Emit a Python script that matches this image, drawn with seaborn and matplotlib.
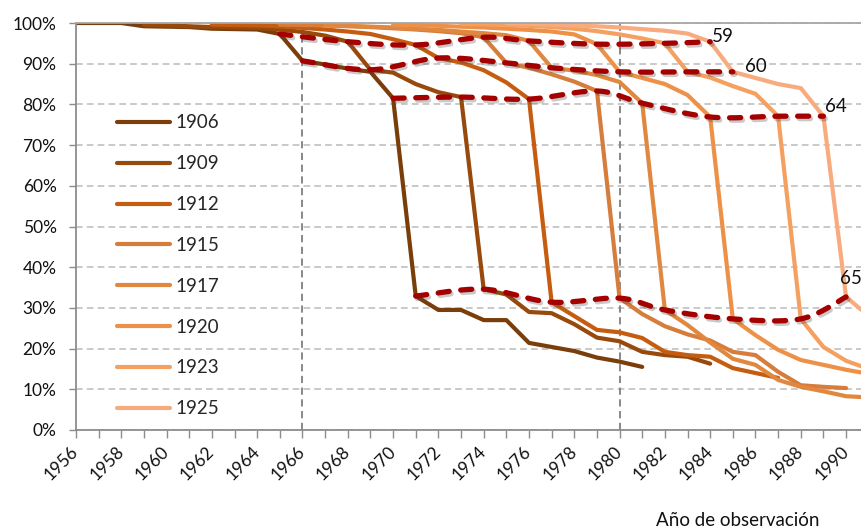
import numpy as np
import pandas as pd
import matplotlib
matplotlib.use("Agg")
import matplotlib.pyplot as plt
from matplotlib.lines import Line2D
from matplotlib import patheffects as pe
import seaborn as sns

# Birth cohorts and the share still active (%) by year of observation,
# each series starting at age 50.
cohorts = [1906, 1909, 1912, 1915, 1917, 1920, 1923, 1925]
first_age = 50

rates_1906 = [100.0, 100.0, 100.0, 99.2, 99.1, 99.0, 98.6, 98.5, 98.4, 97.3,
              90.7, 89.8, 88.8, 88.0, 81.5, 32.9, 29.5, 29.5, 27.0, 27.0,
              21.4, 20.4, 19.4, 17.8, 16.8, 15.5]
rates_1909 = [99.5, 99.4, 99.2, 99.0, 98.9, 98.8, 98.4, 97.8, 96.9, 95.4,
              88.5, 87.8, 85.0, 83.0, 81.8, 34.6, 33.3, 29.0, 28.7, 26.0,
              22.7, 21.8, 19.2, 18.4, 18.0, 16.3]
rates_1912 = [99.6, 99.5, 99.4, 99.2, 98.8, 98.4, 97.9, 97.3, 96.0, 94.6,
              91.4, 90.3, 88.4, 85.4, 81.3, 31.4, 28.0, 24.6, 24.0, 22.6,
              19.2, 18.4, 18.0, 15.2, 14.0, 12.8]
rates_1915 = [99.6, 99.5, 99.4, 99.2, 99.0, 98.7, 98.4, 98.0, 97.5, 96.5,
              90.2, 89.0, 87.4, 85.6, 83.3, 32.4, 28.5, 25.5, 23.5, 22.0,
              19.2, 18.4, 14.3, 11.0, 10.6, 10.3]
rates_1917 = [99.4, 99.3, 99.1, 98.9, 98.6, 98.3, 97.9, 97.5, 97.0, 95.6,
              89.0, 88.3, 87.2, 85.5, 80.3, 29.5, 25.8, 21.5, 17.5, 16.0,
              12.3, 10.6, 9.5, 8.3, 8.0]
rates_1920 = [99.6, 99.5, 99.3, 99.1, 98.9, 98.6, 98.3, 97.9, 97.2, 94.8,
              88.0, 86.5, 85.0, 82.3, 76.9, 27.3, 23.3, 19.7, 17.2, 16.0,
              14.8, 13.8]
rates_1923 = [99.8, 99.7, 99.5, 99.3, 99.0, 98.6, 98.0, 97.2, 96.2, 95.0,
              88.0, 86.6, 84.5, 82.6, 77.1, 27.3, 20.4, 17.0, 15.0]
rates_1925 = [99.9, 99.8, 99.6, 99.4, 99.2, 98.9, 98.5, 98.1, 97.4, 95.4,
              88.0, 86.5, 85.0, 84.0, 77.1, 32.7, 28.0]

cohort_rates = [rates_1906, rates_1909, rates_1912, rates_1915,
                rates_1917, rates_1920, rates_1923, rates_1925]

# Ages followed across cohorts (dashed red curves)
marked_ages = [59, 60, 64, 65]

cohort_colors = ["#7A3E0A", "#98490C", "#C55C10", "#D67D3C",
                 "#E0883F", "#EE9148", "#F4A061", "#F8AB7E"]
age_color = "#A50000"

# ---------------------------------------------------------------- data frame
rows = []
for c, vals in zip(cohorts, cohort_rates):
    for i, v in enumerate(vals):
        rows.append({"cohort": str(c), "year": c + first_age + i, "rate": v})
df = pd.DataFrame(rows)

# ---------------------------------------------------------------- figure
sns.set_theme(style="white")
plt.rcParams["font.family"] = ["Lato", "DejaVu Sans"]

W, H = 861, 531
fig = plt.figure(figsize=(W / 100, H / 100), dpi=100)
ax = fig.add_axes([76 / W, 1 - 430 / H, 1 - 76 / W, (430 - 23) / H])

sns.lineplot(data=df, x="year", y="rate", hue="cohort",
             hue_order=[str(c) for c in cohorts], palette=cohort_colors,
             estimator=None, sort=True, linewidth=3.0, legend=False, ax=ax)
for ln in ax.lines:
    ln.set_solid_capstyle("round")
    ln.set_solid_joinstyle("round")


def smooth_curve(xs, ys, n=24):
    """Bezier smoothing through the points (Catmull-Rom style)."""
    pts = np.column_stack([xs, ys]).astype(float)
    P = np.vstack([pts[0], pts, pts[-1]])
    t = np.linspace(0, 1, n)[:, None]
    out = []
    for i in range(1, len(P) - 2):
        p0, p1, p2, p3 = P[i - 1], P[i], P[i + 1], P[i + 2]
        c1 = p1 + (p2 - p0) / 6.0
        c2 = p2 - (p3 - p1) / 6.0
        seg = ((1 - t) ** 3) * p1 + 3 * ((1 - t) ** 2) * t * c1 \
            + 3 * (1 - t) * (t ** 2) * c2 + (t ** 3) * p2
        out.append(seg if i == 1 else seg[1:])
    return np.vstack(out)


shadow = [pe.SimpleLineShadow(offset=(1.3, -1.8), shadow_color="#404040",
                              alpha=0.28),
          pe.Normal()]

age_points = {}
for age in marked_ages:
    xs = [c + age for c in cohorts]
    ys = [vals[age - first_age] for vals in cohort_rates]
    age_points[age] = (xs[-1], ys[-1])
    curve = smooth_curve(xs, ys)
    ax.plot(curve[:, 0], curve[:, 1], color=age_color, lw=3.8,
            ls=(0, (2.1, 2.2)), dash_capstyle="round", zorder=5,
            path_effects=shadow)

# labels at the end of each age curve (offsets in points)
label_offsets = {59: (1.2, 4.0), 60: (9.0, 3.5), 64: (1.2, 7.3), 65: (-4.3, 13.0)}
for age in marked_ages:
    x, y = age_points[age]
    dx, dy = label_offsets[age]
    ax.annotate(str(age), (x, y), xytext=(dx, dy), textcoords="offset points",
                ha="left", va="center", fontsize=13.5, color="#111111",
                zorder=6, annotation_clip=False)

# reference years
for yr in (1966, 1980):
    ax.axvline(yr, color="#7F7F7F", lw=1.3, ls=(0, (4, 2.5)), zorder=1)

# ---------------------------------------------------------------- axes
ax.set_xlim(1956, 1956 + (W - 77) / 22.62)
ax.set_ylim(0, 100)
ax.set_xlabel("")
ax.set_ylabel("")

ax.set_yticks(np.arange(0, 101, 10))
ax.set_yticklabels([f"{v}%" for v in range(0, 101, 10)])
ax.set_xticks(np.arange(1956, 1991, 2))
ax.set_xticks(np.arange(1956, 1991, 1), minor=True)
ax.set_xticklabels([str(y) for y in range(1956, 1991, 2)], rotation=45,
                   ha="right", va="center", rotation_mode="anchor")

ax.tick_params(axis="y", which="both", left=True, length=5, width=1,
               color="#8C8C8C", pad=9, labelsize=12.5, labelcolor="#111111")
ax.tick_params(axis="x", which="both", bottom=True, length=5.5, width=1,
               color="#8C8C8C", pad=8, labelsize=12.5, labelcolor="#111111")

ax.yaxis.grid(True, color="#C0C0C0", lw=1.2, ls=(0, (4, 2.5)))
ax.xaxis.grid(False)
ax.set_axisbelow(True)

for side in ("left", "bottom", "top"):
    ax.spines[side].set_visible(True)
    ax.spines[side].set_color("#8C8C8C")
    ax.spines[side].set_linewidth(1.3)
ax.spines["right"].set_visible(False)
ax.spines["top"].set_color("#A6A6A6")

# legend inside the plot area
handles = [Line2D([0], [0], color=col, lw=3.0, solid_capstyle="round")
           for col in cohort_colors]
ax.legend(handles, [str(c) for c in cohorts], loc="upper left",
          bbox_to_anchor=(117 / W, 1 - 114.5 / H), bbox_transform=fig.transFigure,
          frameon=False, fontsize=13.5, handlelength=2.8, handletextpad=0.3,
          labelspacing=1.27, borderpad=0, borderaxespad=0)

fig.text(738 / W, 1 - 521 / H, "Año de observación", ha="center", va="center",
         fontsize=13.5, color="#111111")

fig.savefig("out.png", dpi=100)
